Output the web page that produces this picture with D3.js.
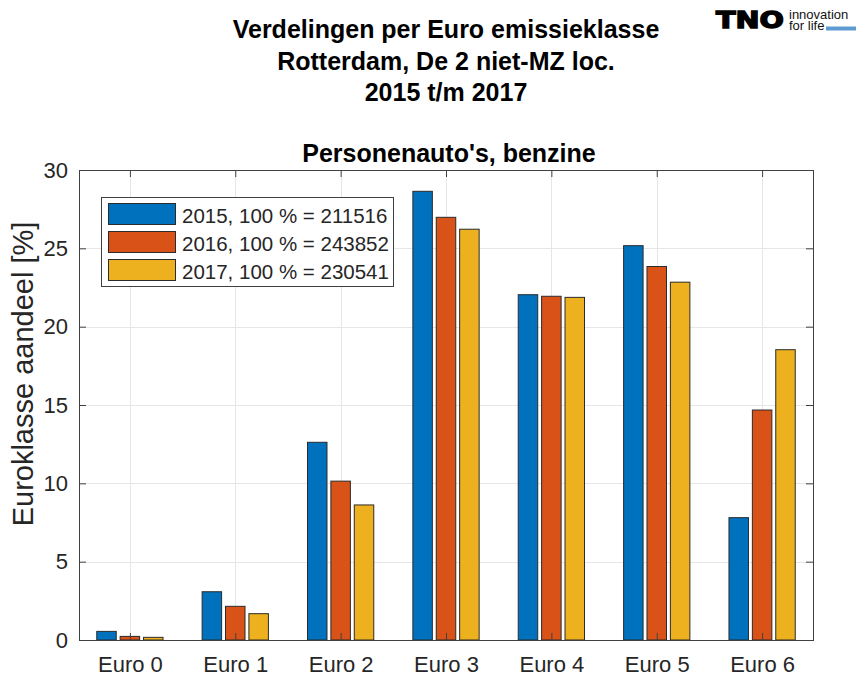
<!DOCTYPE html>
<html>
<head>
<meta charset="utf-8">
<script src="https://cdn.jsdelivr.net/npm/d3@7"></script>
<style>
  body { margin: 0; background: #fff; }
  svg { font-family: "Liberation Sans", Arial, Helvetica, sans-serif; }
</style>
</head>
<body>
<svg width="856" height="674"></svg>
<script>
// euro classes on the x axis
var categories = ["Euro 0", "Euro 1", "Euro 2", "Euro 3", "Euro 4", "Euro 5", "Euro 6"];
// share per euro class [%], one array per year
var values2015 = [0.55, 3.08, 12.62, 28.64, 22.04, 25.17, 7.81];
var values2016 = [0.23, 2.15, 10.14, 26.98, 21.94, 23.84, 14.68];
var values2017 = [0.17, 1.68, 8.62, 26.22, 21.87, 22.84, 18.53];
var seriesNames = ["2015, 100 % = 211516", "2016, 100 % = 243852", "2017, 100 % = 230541"];
var yTicks = [0, 5, 10, 15, 20, 25, 30];
var titleLines = ["Verdelingen per Euro emissieklasse", "Rotterdam, De 2 niet-MZ loc.", "2015 t/m 2017"];

var colors = ["#0072BD", "#D95319", "#EDB120"];
var series = [values2015, values2016, values2017];

var svg = d3.select("svg");
// plot box (note: "top" is reserved on window, so use prefixed names)
var plotL = 79, plotR = 813, plotT = 170, plotB = 640;
var textColor = "#262626", axisColor = "#404040";

var x = d3.scaleLinear().domain([-0.483, 6.483]).range([plotL, plotR]);
var y = d3.scaleLinear().domain([0, 30]).range([plotB, plotT]);

// grid
var grid = svg.append("g").attr("stroke", "#e6e6e6").attr("stroke-width", 1);
grid.selectAll(".gy")
  .data(yTicks.slice(1, -1))
  .enter().append("line")
  .attr("x1", plotL).attr("x2", plotR)
  .attr("y1", function(d) { return Math.round(y(d)) + 0.5; })
  .attr("y2", function(d) { return Math.round(y(d)) + 0.5; });
grid.selectAll(".gx")
  .data(categories)
  .enter().append("line")
  .attr("y1", plotT).attr("y2", plotB)
  .attr("x1", function(d, i) { return Math.round(x(i)) + 0.5; })
  .attr("x2", function(d, i) { return Math.round(x(i)) + 0.5; });

// bars
var pitch = 0.222, barW = 0.185;
series.forEach(function(vals, j) {
  svg.append("g")
    .selectAll("rect")
    .data(vals)
    .enter().append("rect")
    .attr("x", function(d, i) { return x(i + (j - 1) * pitch - barW / 2); })
    .attr("width", x(barW) - x(0))
    .attr("y", function(d) { return y(d); })
    .attr("height", function(d) { return y(0) - y(d); })
    .attr("fill", colors[j])
    .attr("stroke", "#2b2b2b")
    .attr("stroke-width", 1);
});

// axes with inward ticks (box on all four sides)
var tickLen = 7;
var xAxisB = d3.axisBottom(x).tickValues(d3.range(categories.length))
  .tickFormat(function(i) { return categories[i]; })
  .tickSizeInner(-tickLen).tickSizeOuter(0).tickPadding(16);
var xAxisT = d3.axisTop(x).tickValues(d3.range(categories.length))
  .tickFormat("").tickSizeInner(-tickLen).tickSizeOuter(0);
var yAxisL = d3.axisLeft(y).tickValues(yTicks)
  .tickSizeInner(-tickLen).tickSizeOuter(0).tickPadding(11);
var yAxisR = d3.axisRight(y).tickValues(yTicks)
  .tickFormat("").tickSizeInner(-tickLen).tickSizeOuter(0);

function styleAxis(g) {
  g.select(".domain").remove();
  g.selectAll("line").attr("stroke", axisColor);
  g.selectAll("text").attr("fill", textColor).style("font-size", "22px");
}

svg.append("g").attr("transform", "translate(0," + plotB + ")").call(xAxisB).call(styleAxis);
svg.append("g").attr("transform", "translate(0," + plotT + ")").call(xAxisT).call(styleAxis);
svg.append("g").attr("transform", "translate(" + plotL + ",0)").call(yAxisL).call(styleAxis);
svg.append("g").attr("transform", "translate(" + plotR + ",0)").call(yAxisR).call(styleAxis);

svg.append("rect")
  .attr("x", plotL + 0.5).attr("y", plotT + 0.5)
  .attr("width", plotR - plotL).attr("height", plotB - plotT)
  .attr("fill", "none").attr("stroke", axisColor).attr("stroke-width", 1);

// y label
svg.append("text")
  .attr("transform", "translate(33,374) rotate(-90)")
  .attr("text-anchor", "middle")
  .attr("fill", textColor)
  .style("font-size", "29px")
  .text("Euroklasse aandeel [%]");

// titles
svg.append("g").selectAll("text")
  .data(titleLines)
  .enter().append("text")
  .attr("x", 446)
  .attr("y", function(d, i) { return 38 + i * 31.5; })
  .attr("text-anchor", "middle")
  .attr("font-weight", "bold")
  .style("font-size", "25px")
  .attr("fill", "#000")
  .text(function(d) { return d; });

svg.append("text")
  .attr("x", 449)
  .attr("y", 162)
  .attr("text-anchor", "middle")
  .attr("font-weight", "bold")
  .style("font-size", "25px")
  .attr("fill", "#000")
  .text("Personenauto's, benzine");

// legend
var legend = svg.append("g");
legend.append("rect")
  .attr("x", 101.5).attr("y", 197.5).attr("width", 292).attr("height", 89)
  .attr("fill", "#fff").attr("stroke", axisColor);
var item = legend.selectAll(".item")
  .data(seriesNames)
  .enter().append("g")
  .attr("transform", function(d, i) { return "translate(0," + (i * 28) + ")"; });
item.append("rect")
  .attr("x", 108.5).attr("y", 203.5).attr("width", 67).attr("height", 21)
  .attr("fill", function(d, i) { return colors[i]; })
  .attr("stroke", "#2b2b2b");
item.append("text")
  .attr("x", 182).attr("y", 222.5)
  .attr("fill", textColor)
  .style("font-size", "20.5px")
  .text(function(d) { return d; });

// TNO logo
var logo = svg.append("g");
logo.append("text")
  .attr("x", 716).attr("y", 28)
  .attr("textLength", 68).attr("lengthAdjust", "spacingAndGlyphs")
  .attr("font-weight", "900")
  .style("font-family", "'DejaVu Sans', sans-serif")
  .style("font-size", "23px")
  .attr("stroke", "#000").attr("stroke-width", 1.4)
  .attr("fill", "#000")
  .text("TNO");
logo.append("text")
  .attr("x", 789).attr("y", 19)
  .style("font-size", "13px").attr("fill", "#111")
  .text("innovation");
logo.append("text")
  .attr("x", 789).attr("y", 30)
  .style("font-size", "13px").attr("fill", "#111")
  .text("for life");
logo.append("rect")
  .attr("x", 826).attr("y", 26.5).attr("width", 30).attr("height", 4)
  .attr("fill", "#5d9bd1");
</script>
</body>
</html>
